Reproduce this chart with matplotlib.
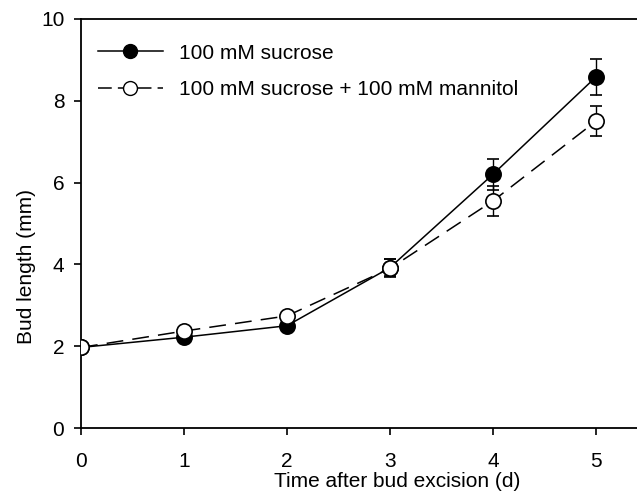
import matplotlib
matplotlib.use("Agg")
import matplotlib.pyplot as plt
from matplotlib.lines import Line2D

plt.rcParams['font.family'] = ['Liberation Sans', 'DejaVu Sans']

days = [0, 1, 2, 3, 4, 5]
sucrose = [1.97, 2.22, 2.50, 3.92, 6.20, 8.58]
sucrose_err = [0.05, 0.08, 0.08, 0.20, 0.37, 0.45]
mannitol = [1.97, 2.37, 2.74, 3.90, 5.55, 7.50]
mannitol_err = [0.05, 0.08, 0.10, 0.22, 0.37, 0.37]
labels = ["100 mM sucrose", "100 mM sucrose + 100 mM mannitol"]
xticks = [0, 1, 2, 3, 4, 5]
yticks = [0, 2, 4, 6, 8, 10]

W, H = 637, 501
fig = plt.figure(figsize=(W/100, H/100), dpi=100)
ax = fig.add_axes([81/W, (H-428)/H, 1 - 81/W, (428-19)/H])

fs = 15
dash = (11, 6)
ax.errorbar(days, sucrose, yerr=sucrose_err, color='black', lw=1.1,
            marker='o', ms=11, mfc='black', mec='black', mew=1.2,
            capsize=4.5, elinewidth=1.0, capthick=1.0, zorder=3)
ax.errorbar(days, mannitol, yerr=mannitol_err, color='black', lw=1.1,
            marker='o', ms=11, mfc='white', mec='black', mew=1.2,
            capsize=4.5, elinewidth=1.0, capthick=1.0, dashes=dash, zorder=4)

ax.set_xlim(0, 5.4)
ax.set_ylim(0, 10)
ax.set_xticks(xticks)
ax.set_yticks(yticks)
ax.tick_params(direction='out', length=5, width=1.2, labelsize=fs)
ax.tick_params(axis='y', pad=7)
ax.tick_params(axis='x', pad=12)
for s in ['left', 'bottom', 'top']:
    ax.spines[s].set_linewidth(1.3)
ax.spines['right'].set_visible(False)
ax.set_xlabel("Time after bud excision (d)", fontsize=fs)
ax.set_ylabel("Bud length (mm)", fontsize=fs)
ax.xaxis.set_label_coords((397-81)/556, -(472-428)/409)
ax.yaxis.set_label_coords(-(81-36)/556, (428-267)/409)

handles = [
    Line2D([], [], color='black', lw=1.1, marker='o', ms=10, mfc='black', mec='black'),
    Line2D([], [], color='black', lw=1.1, marker='o', ms=10, mfc='white', mec='black',
           dashes=(9, 4)),
]
leg = ax.legend(handles, labels, loc='center left',
                bbox_to_anchor=(17/556, 1-(71.5-19)/409),
                frameon=False, fontsize=fs, handlelength=3.1,
                handletextpad=0.8, labelspacing=0.84, borderaxespad=0,
                borderpad=0)

fig.savefig("out.png", dpi=100)
